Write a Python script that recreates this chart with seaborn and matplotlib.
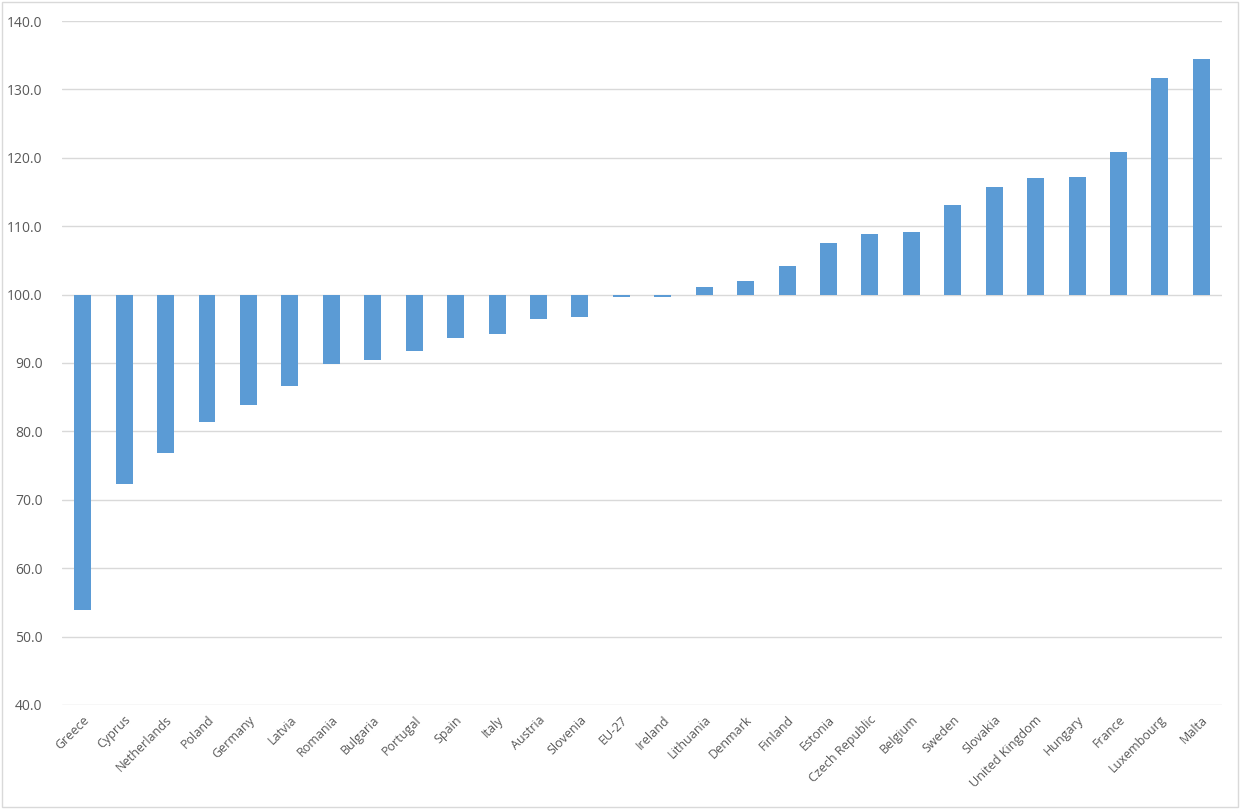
import matplotlib
matplotlib.use("Agg")
import matplotlib.pyplot as plt
import matplotlib.patches as mpatches
from matplotlib.ticker import FormatStrFormatter
import seaborn as sns

# Index values (EU reference = 100)
countries = [
    "Greece", "Cyprus", "Netherlands", "Poland", "Germany", "Latvia",
    "Romania", "Bulgaria", "Portugal", "Spain", "Italy", "Austria",
    "Slovenia", "EU-27", "Ireland", "Lithuania", "Denmark", "Finland",
    "Estonia", "Czech Republic", "Belgium", "Sweden", "Slovakia",
    "United Kingdom", "Hungary", "France", "Luxembourg", "Malta",
]
values = [
    53.9, 72.3, 76.8, 81.4, 83.9, 86.6,
    89.9, 90.4, 91.8, 93.7, 94.2, 96.4,
    96.7, 99.6, 99.6, 101.1, 102.0, 104.2,
    107.5, 108.9, 109.1, 113.1, 115.7,
    117.1, 117.2, 120.9, 131.7, 134.5,
]
baseline = 100.0
y_ticks = [40, 50, 60, 70, 80, 90, 100, 110, 120, 130, 140]

_BAR = "#5B9BD5"
_GRID = "#D9D9D9"
_TEXT = "#595959"

sns.set_theme(style="white")
plt.rcParams["font.family"] = ["Open Sans", "DejaVu Sans"]

fig = plt.figure(figsize=(12.4, 8.09), dpi=100)
ax = fig.add_axes([0.05, 0.1286, 0.9355, 0.8454])

heights = [v - baseline for v in values]
sns.barplot(x=countries, y=heights, bottom=baseline, color=_BAR,
            saturation=1, width=0.41, linewidth=0, ax=ax)

ax.set_ylim(40, 140)
ax.set_xlim(-0.5, len(countries) - 0.5)
ax.set_yticks(y_ticks)
ax.yaxis.set_major_formatter(FormatStrFormatter("%.1f"))
ax.grid(axis="y", color=_GRID, linewidth=1)
ax.set_axisbelow(True)
for s in ax.spines.values():
    s.set_visible(False)

ax.tick_params(axis="y", length=0, pad=14, labelsize=10, labelcolor=_TEXT)
ax.tick_params(axis="x", length=0, pad=6, labelsize=9, labelcolor=_TEXT)
plt.setp(ax.get_xticklabels(), rotation=45, ha="right", rotation_mode="anchor")
ax.set_xlabel("")
ax.set_ylabel("")

# light chart-area border like the original
fig.patches.append(mpatches.Rectangle((0.002, 0.002), 0.996, 0.996,
                                      transform=fig.transFigure, fill=False,
                                      edgecolor=_GRID, linewidth=1))

fig.savefig("out.png", dpi=100)
plt.close(fig)
